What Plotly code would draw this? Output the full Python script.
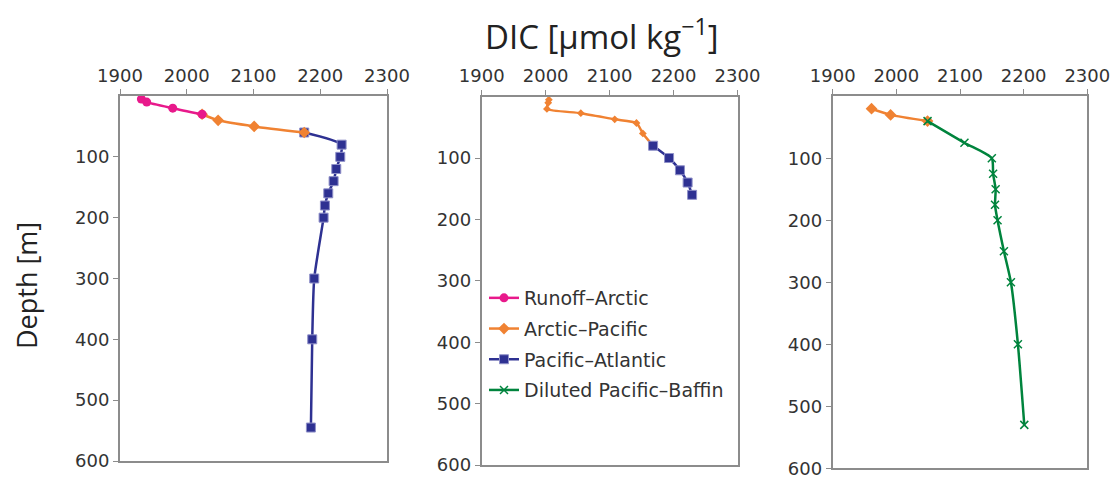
import plotly.graph_objects as go

# ---------------- data ----------------
# Panel 1
p1_runoff_dic = [1932, 1940, 1979, 2023]
p1_runoff_depth = [5, 10, 20, 30]
p1_arcpac_dic = [2023, 2047, 2101, 2176]
p1_arcpac_depth = [30, 40, 50, 60]
p1_pacatl_dic = [2176, 2232, 2230, 2224, 2220, 2212, 2207, 2205, 2191, 2188, 2186]
p1_pacatl_depth = [60, 80, 100, 120, 140, 160, 180, 200, 300, 400, 545]

# Panel 2
p2_arcpac_dic = [2005, 2004, 2002, 2055, 2108, 2142, 2152, 2168]
p2_arcpac_depth = [5, 10, 20, 27, 37, 43, 60, 80]
p2_pacatl_dic = [2168, 2193, 2210, 2222, 2229]
p2_pacatl_depth = [80, 100, 120, 140, 160]

# Panel 3
p3_arcpac_dic = [1961, 1991, 2049]
p3_arcpac_depth = [20, 30, 40]
p3_dpb_dic = [2049, 2107, 2150, 2152, 2156, 2155, 2159, 2169, 2180, 2191, 2201]
p3_dpb_depth = [40, 75, 100, 125, 150, 175, 200, 250, 300, 400, 530]

x_ticks = [1900, 2000, 2100, 2200, 2300]
y_ticks = [100, 200, 300, 400, 500, 600]

names = ["Runoff\u2013Arctic", "Arctic\u2013Pacific", "Pacific\u2013Atlantic", "Diluted Pacific\u2013Baffin"]
colors = ["#E8198B", "#F08232", "#2E3192", "#00843D"]

fig = go.Figure()

def add(x, y, idx, xa, ya, show, symbol, size, shape="spline"):
    mk = dict(symbol=symbol, size=size, color=colors[idx])
    if symbol == "x-thin-open":
        mk["line"] = dict(color=colors[idx], width=1.5)
    elif symbol == "square":
        mk["line"] = dict(color="#8f90c8", width=1)
    fig.add_trace(go.Scatter(
        x=x, y=y, mode="lines+markers", name=names[idx],
        line=dict(color=colors[idx], width=2.5, shape=shape, smoothing=0.6),
        marker=mk, xaxis=xa, yaxis=ya, showlegend=show,
        legendgroup=f"g{idx}", legendrank=idx + 1,
    ))

# panel 1
add(p1_pacatl_dic, p1_pacatl_depth, 2, "x", "y", True, "square", 9)
add(p1_arcpac_dic, p1_arcpac_depth, 1, "x", "y", True, "diamond", 9)
add(p1_runoff_dic, p1_runoff_depth, 0, "x", "y", True, "circle", 9)
# panel 2
add(p2_arcpac_dic, p2_arcpac_depth, 1, "x2", "y2", False, "diamond", 6)
add(p2_pacatl_dic, p2_pacatl_depth, 2, "x2", "y2", False, "square", 9)
# panel 3
add(p3_arcpac_dic, p3_arcpac_depth, 1, "x3", "y3", False, "diamond", 9)
add(p3_dpb_dic, p3_dpb_depth, 3, "x3", "y3", True, "x-thin-open", 8)

W, H = 1111, 478
doms = [
    ((120, 387), (96, 461)),
    ((481.7, 737.5), (96.6, 465)),
    ((832.7, 1087.3), (96.3, 468.3)),
]

tickfont = dict(family="DejaVu Sans", size=18, color="#333333")
layout = dict(
    width=W, height=H,
    margin=dict(l=0, r=0, t=0, b=0),
    plot_bgcolor="white", paper_bgcolor="white",
    showlegend=True,
    legend=dict(x=484 / W, y=(H - 279) / H, xanchor="left", yanchor="top",
                font=dict(family="DejaVu Sans", size=19, color="#333333"),
                tracegroupgap=3, bgcolor="rgba(0,0,0,0)", itemwidth=30),
)
for i, ((x0, x1), (yt, yb)) in enumerate(doms):
    s = "" if i == 0 else str(i + 1)
    layout["xaxis" + s] = dict(
        domain=[x0 / W, x1 / W], range=[1900, 2300], side="top",
        tickvals=x_ticks, ticks="outside", ticklen=5, tickcolor="#8c8c8c",
        showline=True, mirror=True, linecolor="#8c8c8c", linewidth=2,
        showgrid=False, zeroline=False, tickfont=tickfont,
        anchor="y" + s, automargin=False, ticklabeloverflow="allow",
    )
    layout["yaxis" + s] = dict(
        domain=[(H - yb) / H, (H - yt) / H], range=[600, 0],
        tickvals=y_ticks, ticks="outside", ticklen=5, tickcolor="#8c8c8c",
        showline=True, mirror=True, linecolor="#8c8c8c", linewidth=2,
        showgrid=False, zeroline=False, tickfont=tickfont,
        anchor="x" + s, automargin=False, ticklabeloverflow="allow",
    )
fig.update_layout(**layout)

fig.add_annotation(x=602 / W, y=1 - 34 / H, xref="paper", yref="paper",
                   text="DIC [\u03bcmol kg<sup>\u22121</sup>]", showarrow=False,
                   font=dict(family="Open Sans", size=33, color="#222222"),
                   xanchor="center", yanchor="middle")
fig.add_annotation(x=26 / W, y=1 - 286 / H, xref="paper", yref="paper",
                   text="Depth [m]", showarrow=False, textangle=-90,
                   font=dict(family="Open Sans", size=27, color="#222222"),
                   xanchor="center", yanchor="middle")

fig.write_html("out.html")
